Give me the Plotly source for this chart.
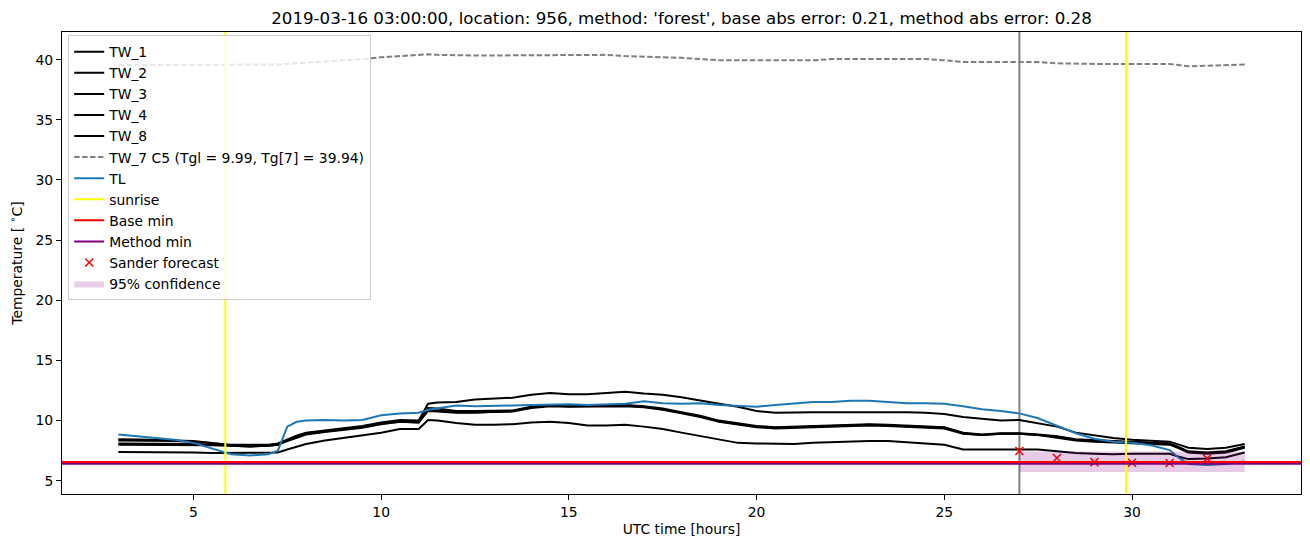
import plotly.graph_objects as go

# ---------------- data ----------------
hours = [3, 3.5, 4, 4.5, 5, 5.5, 6, 6.5, 7, 7.25, 7.5, 7.75, 8, 8.5, 9, 9.5, 10, 10.5, 11, 11.25,
         11.5, 12, 12.5, 13, 13.5, 14, 14.5, 15, 15.5, 16, 16.5, 17, 17.5, 18, 18.5, 19, 19.5, 20,
         20.5, 21, 21.5, 22, 22.5, 23, 23.5, 24, 24.5, 25, 25.5, 26, 26.5, 27, 27.5, 28, 28.5, 29,
         29.5, 30, 30.5, 31, 31.25, 31.5, 32, 32.5, 33]

TW_1 = [8.35, 8.35, 8.3, 8.3, 8.25, 8.1, 8.0, 8.0, 8.0, 8.1, 8.45, 8.75, 9.0, 9.2, 9.35, 9.55, 9.85, 10.05, 10.0, 11.4,
        11.5, 11.55, 11.75, 11.85, 11.9, 12.15, 12.3, 12.2, 12.2, 12.3, 12.4, 12.25, 12.15, 11.95, 11.65, 11.4, 11.15, 10.8,
        10.65, 10.7, 10.7, 10.7, 10.7, 10.75, 10.75, 10.7, 10.65, 10.55, 10.3, 10.15, 10.0, 10.05, 9.8, 9.5, 9.0, 8.75,
        8.55, 8.4, 8.3, 8.25, 8.0, 7.75, 7.65, 7.75, 8.05]
TW_2 = [8.45, 8.45, 8.4, 8.35, 8.3, 8.15, 7.95, 7.9, 7.95, 8.05, 8.4, 8.7, 8.95, 9.15, 9.3, 9.5, 9.8, 9.95, 9.9, 11.05,
        11.0, 10.8, 10.8, 10.8, 10.85, 11.15, 11.3, 11.25, 11.25, 11.3, 11.3, 11.2, 11.0, 10.7, 10.4, 10.0, 9.75, 9.55,
        9.45, 9.5, 9.55, 9.6, 9.65, 9.7, 9.65, 9.6, 9.55, 9.45, 9.0, 8.85, 8.95, 8.95, 8.85, 8.7, 8.45, 8.35,
        8.3, 8.25, 8.15, 8.1, 7.8, 7.45, 7.35, 7.45, 7.85]
TW_3 = [8.1, 8.1, 8.1, 8.1, 8.05, 8.0, 7.9, 7.85, 7.9, 8.0, 8.3, 8.6, 8.85, 9.05, 9.2, 9.4, 9.7, 9.9, 9.85, 10.95,
        10.85, 10.7, 10.7, 10.7, 10.75, 11.05, 11.2, 11.15, 11.15, 11.2, 11.2, 11.1, 10.9, 10.6, 10.3, 9.9, 9.65, 9.45,
        9.35, 9.4, 9.45, 9.5, 9.55, 9.6, 9.55, 9.5, 9.45, 9.35, 8.9, 8.8, 8.9, 8.9, 8.8, 8.6, 8.35, 8.25,
        8.2, 8.15, 8.05, 8.0, 7.7, 7.35, 7.25, 7.35, 7.75]
TW_4 = [7.4, 7.4, 7.4, 7.4, 7.35, 7.3, 7.3, 7.3, 7.3, 7.35, 7.6, 7.85, 8.05, 8.35, 8.55, 8.75, 9.0, 9.3, 9.3, 10.05,
        10.0, 9.8, 9.65, 9.65, 9.7, 9.85, 9.9, 9.8, 9.6, 9.6, 9.65, 9.5, 9.3, 9.0, 8.7, 8.4, 8.15, 8.1,
        8.1, 8.05, 8.15, 8.2, 8.3, 8.3, 8.3, 8.2, 8.15, 8.0, 7.6, 7.6, 7.65, 7.6, 7.6, 7.45, 7.3, 7.25,
        7.2, 7.25, 7.25, 7.25, 7.0, 6.8, 6.85, 6.95, 7.35]
TW_8 = [8.0, 8.0, 8.0, 8.0, 8.0, 7.95, 7.9, 7.85, 7.9, 8.0, 8.35, 8.65, 8.9, 9.1, 9.25, 9.45, 9.75, 9.9, 9.85, 10.8,
        10.75, 10.65, 10.65, 10.7, 10.8, 11.1, 11.25, 11.2, 11.2, 11.25, 11.25, 11.15, 10.95, 10.65, 10.35, 9.95, 9.7, 9.5,
        9.4, 9.45, 9.5, 9.55, 9.6, 9.65, 9.6, 9.55, 9.5, 9.4, 8.95, 8.8, 8.9, 8.9, 8.8, 8.65, 8.4, 8.3,
        8.25, 8.2, 8.1, 8.05, 7.75, 7.4, 7.3, 7.4, 7.8]
TW_7 = [39.55, 39.55, 39.55, 39.55, 39.55, 39.55, 39.55, 39.55, 39.55, 39.6, 39.65, 39.7, 39.72, 39.8, 39.9, 40.05, 40.2, 40.3, 40.35, 40.45,
        40.4, 40.35, 40.35, 40.35, 40.35, 40.4, 40.4, 40.35, 40.35, 40.4, 40.3, 40.25, 40.25, 40.15, 40.05, 39.95, 39.95, 39.95,
        39.95, 39.95, 39.95, 40.05, 40.05, 40.05, 40.05, 40.05, 40.05, 39.95, 39.8, 39.8, 39.8, 39.8, 39.8, 39.7, 39.65, 39.65,
        39.65, 39.65, 39.65, 39.65, 39.55, 39.45, 39.5, 39.55, 39.6]
TL = [8.85, 8.7, 8.6, 8.4, 8.15, 7.65, 7.2, 7.1, 7.2, 7.5, 9.5, 9.9, 10.0, 10.05, 10.0, 10.05, 10.45, 10.6, 10.65, 10.9,
      11.0, 11.25, 11.2, 11.2, 11.25, 11.3, 11.35, 11.35, 11.3, 11.35, 11.4, 11.6, 11.45, 11.4, 11.45, 11.3, 11.2, 11.15,
      11.3, 11.45, 11.55, 11.55, 11.65, 11.65, 11.55, 11.45, 11.45, 11.4, 11.2, 10.95, 10.8, 10.6, 10.2, 9.6, 8.95, 8.5,
      8.25, 8.15, 7.95, 7.55, 6.9, 6.4, 6.3, 6.4, 6.6]

sunrise_hours = [5.85, 29.84]
forecast_start = 27.0
base_min = 6.55
method_min = 6.42
sander_hours = [27, 28, 29, 30, 31, 32]
sander_values = [7.48, 6.9, 6.55, 6.5, 6.48, 6.84]
conf_hours = [27, 28, 29, 30, 31, 32, 33]
conf_lower = [5.72, 5.72, 5.72, 5.72, 5.72, 5.72, 5.72]
conf_upper = [7.43, 7.43, 7.43, 7.43, 7.43, 7.43, 7.43]

title = "2019-03-16 03:00:00, location: 956, method: 'forest', base abs error: 0.21, method abs error: 0.28"
x_range = [1.5, 34.5]
y_range = [3.9, 42.3]

# ---------------- figure ----------------
FONT = "DejaVu Sans"
FS = 13.9
fig = go.Figure()

for name, vals in [("TW_1", TW_1), ("TW_2", TW_2), ("TW_3", TW_3), ("TW_4", TW_4), ("TW_8", TW_8)]:
    fig.add_trace(go.Scatter(x=hours, y=vals, mode="lines", name=name, legendgroup=name,
                             line=dict(color="black", width=2)))

fig.add_trace(go.Scatter(x=hours, y=TW_7, mode="lines", name="TW_7 C5 (Tgl = 9.99, Tg[7] = 39.94)",
                         legendgroup="tw7", line=dict(color="gray", width=2, dash="5.5px,2.4px")))
fig.add_trace(go.Scatter(x=hours, y=TL, mode="lines", name="TL", legendgroup="tl",
                         line=dict(color="#1f77b4", width=2)))

# vertical lines
fig.add_shape(type="line", x0=forecast_start, x1=forecast_start, y0=0, y1=1, xref="x", yref="paper",
              line=dict(color="gray", width=2), layer="below")
for h in sunrise_hours:
    fig.add_shape(type="line", x0=h, x1=h, y0=0, y1=1, xref="x", yref="paper",
                  line=dict(color="yellow", width=2), layer="above")
fig.add_trace(go.Scatter(x=[None], y=[None], mode="lines", name="sunrise", legendgroup="sun",
                         line=dict(color="yellow", width=2)))

# horizontal lines (red drawn on top of purple)
fig.add_shape(type="line", x0=0, x1=1, y0=method_min, y1=method_min, xref="paper", yref="y",
              line=dict(color="purple", width=2), layer="above")
fig.add_shape(type="line", x0=0, x1=1, y0=base_min, y1=base_min, xref="paper", yref="y",
              line=dict(color="red", width=2), layer="above")
fig.add_trace(go.Scatter(x=[None], y=[None], mode="lines", name="Base min", legendgroup="bm",
                         line=dict(color="red", width=2)))
fig.add_trace(go.Scatter(x=[None], y=[None], mode="lines", name="Method min", legendgroup="mm",
                         line=dict(color="purple", width=2)))

fig.add_trace(go.Scatter(x=sander_hours, y=sander_values, mode="markers", name="Sander forecast",
                         legendgroup="sf",
                         marker=dict(symbol="x-thin", size=8, line=dict(color="red", width=1.5), color="red")))

fig.add_trace(go.Scatter(x=conf_hours + conf_hours[::-1], y=conf_upper + conf_lower[::-1],
                         mode="lines", fill="toself", fillcolor="rgba(128,0,128,0.2)",
                         line=dict(width=0, color="rgba(128,0,128,0)"), name="95% confidence",
                         legendgroup="ci", hoverinfo="skip"))

axis_common = dict(showline=True, linecolor="black", linewidth=1, mirror=True, ticks="outside",
                   ticklen=5, tickwidth=1, tickcolor="black", showgrid=False, zeroline=False,
                   tickfont=dict(family=FONT, size=FS, color="black"))

fig.update_layout(
    width=1310, height=547,
    margin=dict(l=62, r=9, t=32, b=53),
    paper_bgcolor="white", plot_bgcolor="white",
    font=dict(family=FONT, size=FS, color="black"),
    title=dict(text=title, x=0.5, xref="paper", xanchor="center", y=1 - 18 / 547, yref="container",
               yanchor="middle", font=dict(family=FONT, size=16.67, color="black")),
    xaxis=dict(range=x_range, tickvals=[5, 10, 15, 20, 25, 30],
               title=dict(text="UTC time [hours]", standoff=5, font=dict(family=FONT, size=FS)),
               **axis_common),
    yaxis=dict(range=y_range, tickvals=[5, 10, 15, 20, 25, 30, 35, 40],
               title=dict(text="Temperature [ <sup>∘</sup>C]", standoff=9, font=dict(family=FONT, size=FS)),
               **axis_common),
    legend=dict(x=0.005, y=0.993, xanchor="left", yanchor="top", bgcolor="rgba(255,255,255,0.8)",
                bordercolor="#cccccc", borderwidth=1, tracegroupgap=0,
                font=dict(family=FONT, size=FS, color="black")),
    showlegend=True,
)

fig.write_html("out.html")
